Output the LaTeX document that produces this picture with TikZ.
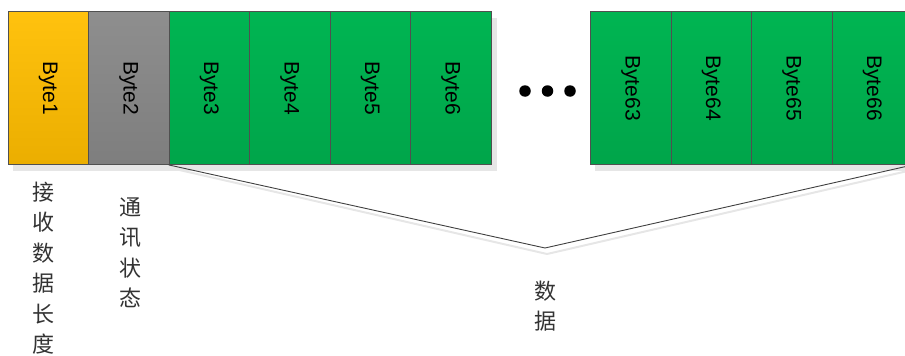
\documentclass[tikz,border=0pt]{standalone}
\usepackage{fontspec}
\setmainfont{Liberation Sans}
\newfontfamily\cjk{Noto Sans CJK SC}
\definecolor{boxline}{HTML}{505050}
\definecolor{orangeA}{HTML}{FFC20E}
\definecolor{orangeB}{HTML}{EBAE00}
\definecolor{grayA}{HTML}{8E8E8E}
\definecolor{grayB}{HTML}{7E7E7E}
\definecolor{greenA}{HTML}{00B552}
\definecolor{greenB}{HTML}{00A54A}
\definecolor{shadowgray}{HTML}{E6E6E6}
\definecolor{lbl}{HTML}{333333}
\definecolor{linecol}{HTML}{404040}
\begin{document}
\begin{tikzpicture}[x=1pt,y=-1pt,
  bytebox/.style={draw=boxline, line width=0.8pt, rotate=-90,
    minimum width=153pt, minimum height=80.5pt, inner sep=0pt,
    font=\fontsize{21}{24}\selectfont, text=black},
  orangebox/.style={bytebox, top color=orangeA, bottom color=orangeB},
  graybox/.style={bytebox, top color=grayA, bottom color=grayB},
  greenbox/.style={bytebox, top color=greenA, bottom color=greenB},
  cjklabel/.style={align=center, inner sep=0pt, text=lbl,
    font=\cjk\fontsize{22}{30.5}\selectfont},
  dot/.style={circle, fill=black, minimum size=11.5pt, inner sep=0pt},
  vline/.style={draw=linecol, line width=0.9pt}
]
\useasboundingbox (0,0) rectangle (905,356);
\clip (0,0) rectangle (905,356);
% shadows
\fill[shadowgray] (13,18) rectangle (497,171);
\fill[shadowgray] (595,18) rectangle (917,171);
\draw[draw=shadowgray, line width=2pt] (175,169) -- (547,254) -- (912,170);
% boxes
\node[orangebox] (b1) at (48.25,88) {Byte1};
\node[graybox] (b2) at (128.75,88) {Byte2};
\node[greenbox] (b3) at (209.25,88) {Byte3};
\node[greenbox] (b4) at (289.75,88) {Byte4};
\node[greenbox] (b5) at (370.25,88) {Byte5};
\node[greenbox] (b6) at (450.75,88) {Byte6};
\node[greenbox] (b63) at (630.75,88) {Byte63};
\node[greenbox] (b64) at (711.25,88) {Byte64};
\node[greenbox] (b65) at (791.75,88) {Byte65};
\node[greenbox] (b66) at (872.25,88) {Byte66};
% dots
\node[dot] (d1) at (525,91) {};
\node[dot] (d2) at (547.5,91) {};
\node[dot] (d3) at (570,91) {};
% brace lines
\coordinate (vtx) at (545,248);
\draw[vline] (b3.south east) -- (vtx) -- (b66.north east);
% labels
\node[cjklabel] (l1) at (43,268) {接\\收\\数\\据\\长\\度};
\node[cjklabel] (l2) at (130,253) {通\\讯\\状\\态};
\node[cjklabel] (l3) at (545,306) {数\\据};
\end{tikzpicture}
\end{document}
